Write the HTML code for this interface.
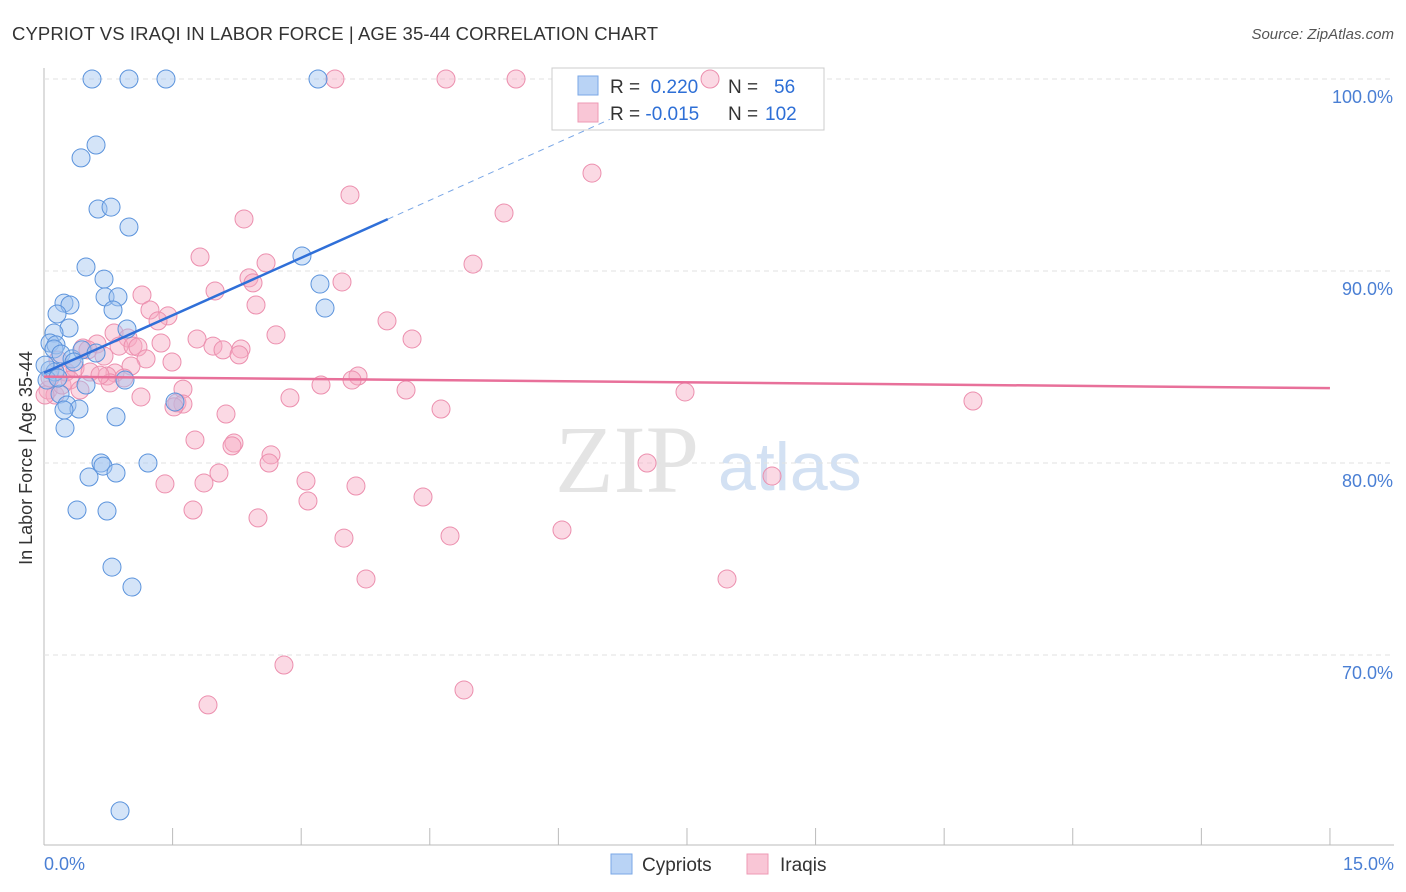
<!DOCTYPE html>
<html><head><meta charset="utf-8"><style>
body{margin:0;background:#fff;font-family:"Liberation Sans",sans-serif;}
#wrap{position:relative;width:1406px;height:892px;overflow:hidden;}
</style></head><body>
<div id="wrap">
<svg id="svg" width="1406" height="892" xmlns="http://www.w3.org/2000/svg">
<text x="12" y="40" font-size="18.5" fill="#333" textLength="646">CYPRIOT VS IRAQI IN LABOR FORCE | AGE 35-44 CORRELATION CHART</text>
<text x="1394" y="39" font-size="15" font-style="italic" fill="#555" text-anchor="end">Source: ZipAtlas.com</text>
<text x="555" y="492" font-size="96" font-family="Liberation Serif,serif" fill="#e4e4e4">ZIP</text>
<text x="718" y="490" font-size="68" fill="#d3e1f3">atlas</text>
<g id="grid"></g>
<g>
<rect x="552" y="68" width="272" height="62" fill="#fff" stroke="#ccc"/>
<rect x="578" y="76" width="20" height="19" fill="#b9d3f5" stroke="#7aa7e6"/>
<rect x="578" y="103" width="20" height="19" fill="#f9c6d6" stroke="#ee9ab4"/>
<text x="610" y="93" font-size="19" fill="#333">R = <tspan fill="#2e6fd6">&#160;0.220</tspan><tspan x="728">N = </tspan><tspan x="774" fill="#2e6fd6">56</tspan></text>
<text x="610" y="120" font-size="19" fill="#333">R = <tspan fill="#2e6fd6">-0.015</tspan><tspan x="728">N = </tspan><tspan x="765" fill="#2e6fd6">102</tspan></text>
</g>
<g id="pts"></g><g id="lines"></g>
<text x="32" y="458" font-size="18" fill="#333" text-anchor="middle" transform="rotate(-90 32 458)">In Labor Force | Age 35-44</text>
<text x="44" y="870" font-size="18" fill="#4a7fd4">0.0%</text>
<text x="1394" y="870" font-size="18" fill="#4a7fd4" text-anchor="end">15.0%</text>
<g>
<rect x="611" y="854" width="21" height="20" fill="#b9d3f5" stroke="#7aa7e6"/>
<text x="642" y="871" font-size="19" fill="#333">Cypriots</text>
<rect x="747" y="854" width="21" height="20" fill="#f9c6d6" stroke="#ee9ab4"/>
<text x="780" y="871" font-size="19" fill="#333">Iraqis</text>
</g>
</svg></div>
<script>
const yTicks=[100,90,80,70];
const xTicks=[0,1.5,3,4.5,6,7.5,9,10.5,12,13.5,15];
const bluePx=[[92,79],[129,79],[166,79],[318,79],[96,145],[81,158],[98,209],[111,207],[129,227],[86,267],[104,279],[302,256],[320,284],[105,297],[118,297],[64,303],[70,305],[57,314],[113,310],[325,308],[69,328],[54,333],[127,329],[50,343],[56,345],[54,349],[61,354],[72,359],[82,350],[50,370],[55,372],[45,365],[86,385],[60,394],[67,405],[79,409],[64,410],[65,428],[116,417],[125,380],[175,402],[148,463],[101,463],[103,466],[89,477],[116,473],[77,510],[107,511],[112,567],[132,587],[120,811],[47,380],[58,378],[74,362],[96,353]];
const pinkPx=[[335,79],[446,79],[516,79],[710,79],[592,173],[350,195],[504,213],[244,219],[200,257],[266,263],[473,264],[249,278],[253,283],[342,282],[215,291],[142,295],[256,305],[150,310],[168,316],[158,321],[387,321],[276,335],[412,339],[197,339],[114,333],[128,338],[161,343],[213,346],[223,350],[241,349],[239,355],[119,346],[133,346],[138,347],[97,344],[83,348],[88,350],[146,359],[172,362],[104,356],[131,366],[358,376],[352,380],[115,373],[107,376],[124,378],[110,383],[321,385],[406,390],[183,389],[141,397],[685,392],[973,401],[290,398],[441,409],[177,403],[183,404],[174,407],[226,414],[234,443],[195,440],[232,446],[271,455],[269,463],[647,463],[772,476],[219,473],[306,481],[165,484],[204,483],[356,486],[308,501],[423,497],[193,510],[258,518],[562,530],[344,538],[450,536],[366,579],[727,579],[284,665],[464,690],[208,705],[48,390],[55,395],[62,385],[50,378],[66,372],[75,368],[90,372],[58,360],[45,395],[70,380],[100,375],[80,390]];
const blueX=bluePx.map(p=>+((p[0]-44)/85.73).toFixed(3));
const blueY=bluePx.map(p=>+(100-(p[1]-79)/19.2).toFixed(2));
const pinkX=pinkPx.map(p=>+((p[0]-44)/85.73).toFixed(3));
const pinkY=pinkPx.map(p=>+(100-(p[1]-79)/19.2).toFixed(2));
const blueLine=[[0,84.7],[4.01,92.7],[6.6,97.9]];
const pinkLine=[[0,84.5],[15,83.9]];
const sx=v=>44+v*85.73, sy=v=>79+(100-v)*19.2;
const NS='http://www.w3.org/2000/svg';
function mk(t,a,par){const e=document.createElementNS(NS,t);for(const k in a)e.setAttribute(k,a[k]);par.appendChild(e);return e;}
const g=document.getElementById('grid');
mk('line',{x1:44,y1:68,x2:44,y2:845,stroke:'#bbb'},g);
mk('line',{x1:44,y1:845,x2:1394,y2:845,stroke:'#bbb'},g);
yTicks.forEach(v=>{
 const l=mk('line',{x1:44,y1:sy(v),x2:1394,y2:sy(v),stroke:'#e2e2e2','stroke-dasharray':'5,4'},g);
 
 
 const t=mk('text',{x:1393,y:sy(v)+24,'font-size':18,fill:'#4a7fd4','text-anchor':'end'},g);
 t.textContent=v.toFixed(1)+'%';
 
 
});
xTicks.forEach(v=>{
 const l=mk('line',{x1:sx(v),y1:828,x2:sx(v),y2:845,stroke:'#bbb'},g);
 
 
});
const pg=document.getElementById('pts');
pinkX.forEach((x,i)=>{
 const c=mk('circle',{cx:sx(x),cy:sy(pinkY[i]),r:9,fill:'rgba(246,170,196,0.45)',stroke:'#ec8fae','stroke-width':1},pg);
 
 
});
blueX.forEach((x,i)=>{
 const c=mk('circle',{cx:sx(x),cy:sy(blueY[i]),r:9,fill:'rgba(160,196,240,0.45)',stroke:'#5b93dc','stroke-width':1},pg);
 
 
});
const lg=document.getElementById('lines');
const b1=mk('line',{x1:sx(blueLine[0][0]),y1:sy(blueLine[0][1]),x2:sx(blueLine[1][0]),y2:sy(blueLine[1][1]),stroke:'#2f6fd8','stroke-width':2.5},lg);


const b2=mk('line',{x1:sx(blueLine[1][0]),y1:sy(blueLine[1][1]),x2:sx(blueLine[2][0]),y2:sy(blueLine[2][1]),stroke:'#7aa7e6','stroke-width':1,'stroke-dasharray':'6,5'},lg);


const p1=mk('line',{x1:sx(pinkLine[0][0]),y1:sy(pinkLine[0][1]),x2:sx(pinkLine[1][0]),y2:sy(pinkLine[1][1]),stroke:'#e8709a','stroke-width':2.5},lg);


</script>
</body></html>
